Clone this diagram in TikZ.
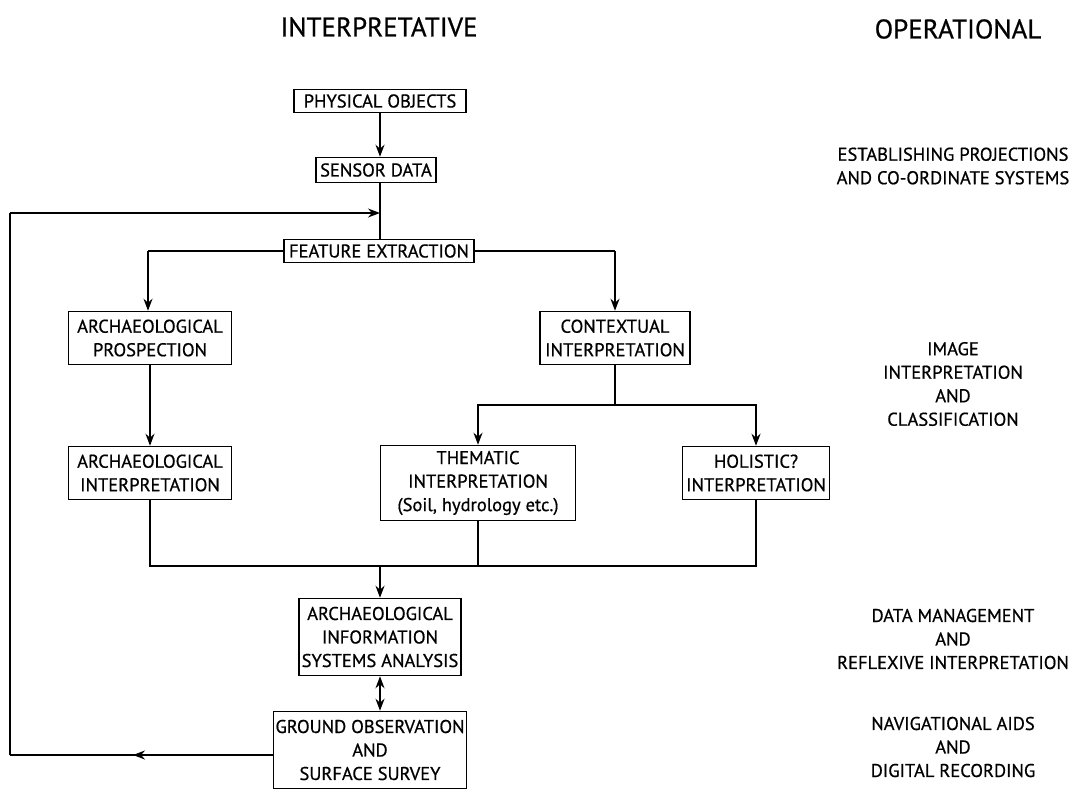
\documentclass[tikz,border=0pt]{standalone}
\usepackage{fontspec}
\setmainfont{PT Sans}[FakeBold=0.7]
\usetikzlibrary{arrows.meta}
\begin{document}
\begin{tikzpicture}[x=1pt,y=-1pt,
  box/.style={draw,line width=1.5pt,inner sep=2pt,align=center,font=\fontsize{18.5}{23.5}\selectfont},
  lab/.style={align=center,font=\fontsize{18.5}{23.5}\selectfont},
  ttl/.style={font=\fontsize{27}{30}\selectfont},
  conn/.style={line width=1.4pt},
  arr/.style={conn,-{Stealth[length=12pt,width=9pt]}}]
\useasboundingbox (0,0) rectangle (1083,790);
% titles
\node[ttl] (ti) at (379,27) {INTERPRETATIVE};
\node[ttl] (to) at (958,29) {OPERATIONAL};
% boxes
\node[box,minimum width=172pt,minimum height=23pt] (po) at (380,101) {PHYSICAL OBJECTS};
\node[box,minimum width=120pt,minimum height=25pt] (sd) at (376,170) {SENSOR DATA};
\node[box,minimum width=190pt,minimum height=23pt] (fe) at (379,251) {FEATURE EXTRACTION};
\node[box,minimum width=163pt,minimum height=53pt] (ap) at (150,338) {ARCHAEOLOGICAL\\PROSPECTION};
\node[box,minimum width=150pt,minimum height=53pt] (ci) at (615,338) {CONTEXTUAL\\INTERPRETATION};
\node[box,minimum width=163pt,minimum height=53pt] (ai) at (150,473) {ARCHAEOLOGICAL\\INTERPRETATION};
\node[box,minimum width=195pt,minimum height=75pt] (th) at (478,483) {THEMATIC\\INTERPRETATION\\(Soil, hydrology etc.)};
\node[box,minimum width=147pt,minimum height=53pt] (ho) at (756,473) {HOLISTIC?\\INTERPRETATION};
\node[box,minimum width=162pt,minimum height=77pt] (ais) at (380,637) {ARCHAEOLOGICAL\\INFORMATION\\SYSTEMS ANALYSIS};
\node[box,minimum width=187pt,minimum height=77pt] (go) at (370,750) {GROUND OBSERVATION\\AND\\SURFACE SURVEY};
% right labels
\node[lab] (l1) at (953,166) {ESTABLISHING PROJECTIONS\\AND CO-ORDINATE SYSTEMS};
\node[lab] (l2) at (953,384) {IMAGE\\INTERPRETATION\\AND\\CLASSIFICATION};
\node[lab] (l3) at (953,639) {DATA MANAGEMENT\\AND\\REFLEXIVE INTERPRETATION};
\node[lab] (l4) at (953,747) {NAVIGATIONAL AIDS\\AND\\DIGITAL RECORDING};
% coordinates
\coordinate (spine) at (380,213);
\coordinate (fl) at (148,251);
\coordinate (fr) at (615,251);
\coordinate (sj) at (615,405);
\coordinate (jl) at (150,566);
\coordinate (jm) at (380,566);
\coordinate (jr) at (756,566);
\coordinate (lb) at (10,755);
\coordinate (lm) at (133,755);
\coordinate (lt) at (10,213);
% connectors
\draw[arr] (po.south) -- (po.south |- sd.north);
\draw[conn] (po.south |- sd.south) -- (po.south |- fe.north);
\draw[conn] (fe.west) -- (fl);
\draw[arr] (fl) -- (fl |- ap.north);
\draw[conn] (fe.east) -- (fr);
\draw[arr] (fr) -- (ci.north);
\draw[arr] (ap.south) -- (ai.north);
\draw[conn] (ci.south) -- (sj);
\draw[arr] (sj) -| (th.north);
\draw[arr] (sj) -| (ho.north);
\draw[conn] (ai.south) -- (jl) -- (jr) -- (ho.south);
\draw[conn] (th.south) -- (th.south |- jm);
\draw[arr] (jm) -- (ais.north);
\draw[conn,{Stealth[length=12pt,width=9pt]}-{Stealth[length=12pt,width=9pt]}] (ais.south) -- (ais.south |- go.north);
\draw[conn] (go.west |- lb) -- (lb);
\draw[arr] (go.west |- lb) -- (lm);
\draw[conn] (lb) -- (lt);
\draw[arr] (lt) -- (spine);
\end{tikzpicture}
\end{document}
